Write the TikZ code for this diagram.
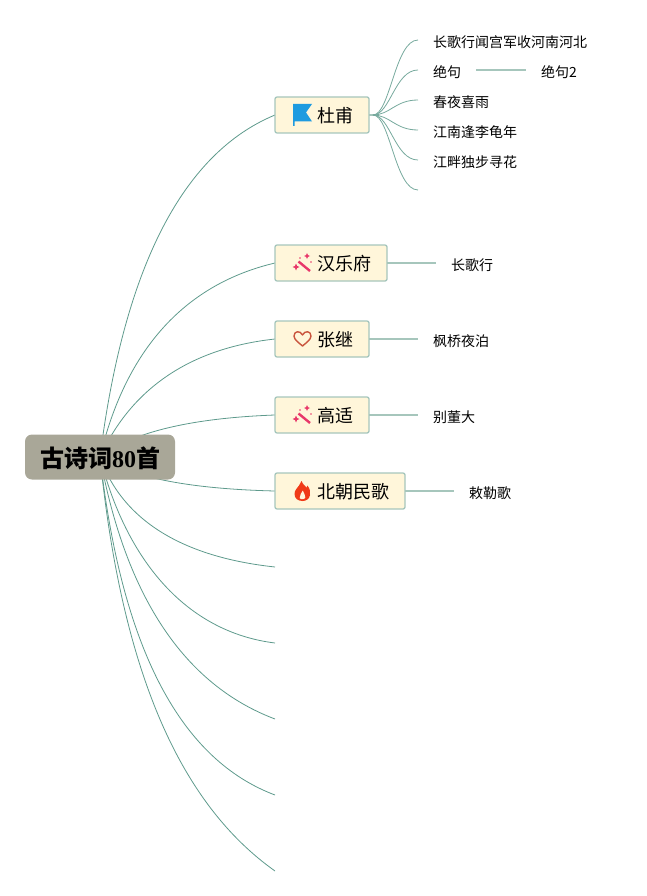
\documentclass[tikz,border=0pt]{standalone}
\usepackage{fontspec}
\setmainfont{Noto Sans CJK SC}
\newfontfamily\latinbold{Liberation Serif}
\usetikzlibrary{backgrounds}
\definecolor{limb}{HTML}{5E9A8C}
\definecolor{twig}{HTML}{A6C6BC}
\definecolor{rootfill}{HTML}{A9A798}
\definecolor{boxfill}{HTML}{FFF6DA}
\definecolor{flagblue}{HTML}{1E9BE0}
\definecolor{wandpink}{HTML}{E8386A}
\definecolor{heartred}{HTML}{C9553E}
\definecolor{flamered}{HTML}{F03A17}
\newcommand{\sparkle}[3]{\fill[wandpink] (#1,#2-#3) -- (#1+.3*#3,#2-.3*#3) -- (#1+#3,#2) -- (#1+.3*#3,#2+.3*#3) -- (#1,#2+#3) -- (#1-.3*#3,#2+.3*#3) -- (#1-#3,#2) -- (#1-.3*#3,#2-.3*#3) -- cycle;}
\newcommand{\boxtext}[1]{\hspace{27pt}\raisebox{-7.5pt}[0pt][0pt]{#1}}
\tikzset{
  rootbox/.style={fill=rootfill,rounded corners=7pt,minimum width=150,minimum height=45,inner sep=0pt,font=\fontsize{24}{24}\selectfont\bfseries},
  branchbox/.style={draw=twig,line width=1.3pt,fill=boxfill,rounded corners=2pt,minimum height=36,inner ysep=0pt,inner xsep=15.5,outer sep=0pt,anchor=west,font=\fontsize{18}{18}\selectfont},
  leaf/.style={anchor=west,inner sep=0pt,font=\fontsize{14}{14}\selectfont},
  limbline/.style={draw=limb,line width=0.8pt},
  twigline/.style={draw=twig,line width=1.3pt},
  subline/.style={draw=limb!85,line width=0.8pt},
  flagicon/.pic={\fill[flagblue] (-9.5,-11) -- (9.5,-11) -- (3.5,-2.5) -- (9.5,6.5) -- (-8,6.5) -- (-8,11) -- (-9.5,11) -- cycle;},
  wandicon/.pic={
    \draw[draw=wandpink,line width=2.4pt] (-4.5,-1.5) -- (7,8);
    \sparkle{4}{-7}{3}
    \sparkle{-7}{4}{3.5}
    \fill[wandpink] (8,-1) circle (0.8pt);
    \fill[wandpink] (-3,-5) circle (0.8pt);},
  hearticon/.pic={\draw[draw=heartred,line width=1.4pt,line join=round] (0,7) .. controls (-4,3.5) and (-8.5,0.5) .. (-8.5,-3) .. controls (-8.5,-8.5) and (-2,-8.5) .. (0,-4) .. controls (2,-8.5) and (8.5,-8.5) .. (8.5,-3) .. controls (8.5,0.5) and (4,3.5) .. (0,7) -- cycle;},
  flameicon/.pic={\fill[flamered] (-1,-10) .. controls (1,-6) and (2,-5.5) .. (3,-4.5) .. controls (3.5,-4) and (3.5,-3) .. (4,-3) .. controls (4.8,-3.5) and (4.8,-5) .. (4.8,-5.5) .. controls (7.5,-2.5) and (8,1) .. (7.5,4) .. controls (7,8) and (3.5,10) .. (0,10) .. controls (-4.5,10) and (-8,7.5) .. (-8,3) .. controls (-8,-1) and (-5,-3) .. (-3.5,-5.5) .. controls (-2.5,-7) and (-1.5,-8) .. (-1,-10) -- cycle;
    \fill[boxfill] (0.3,-0.5) .. controls (-0.5,2) and (-3.5,4) .. (-2.8,7) .. controls (-2.3,8.7) and (2.3,8.7) .. (2.8,6.5) .. controls (3.3,4) and (1,2.5) .. (0.3,-0.5) -- cycle;}
}
\begin{document}
\begin{tikzpicture}[x=1pt,y=-1pt]
    \useasboundingbox (0,0) rectangle (647,896);
    % root
    \node[rootbox] (root) at (100,457) {\raisebox{-10pt}[0pt][0pt]{古诗词{\latinbold 80}首}};
    % branches
    \node[branchbox] (dufu)    at (275,115) {\boxtext{杜甫}};
    \node[branchbox] (yuefu)   at (275,263) {\boxtext{汉乐府}};
    \node[branchbox] (zhangji) at (275,339) {\boxtext{张继}};
    \node[branchbox] (gaoshi)  at (275,415) {\boxtext{高适}};
    \node[branchbox] (beichao) at (275,491) {\boxtext{北朝民歌}};
    \coordinate (e1) at (275,567);
    \coordinate (e2) at (275,643);
    \coordinate (e3) at (275,719);
    \coordinate (e4) at (275,795);
    \coordinate (e5) at (275,871);
    % icons
    \pic at (302.5,115) {flagicon};
    \pic at (303,263) {wandicon};
    \pic at (302.5,339) {hearticon};
    \pic at (303,415) {wandicon};
    \pic at (302.5,491) {flameicon};
    % leaves
    \node[leaf] (changge) at (433,42)  {长歌行闻宫军收河南河北};
    \node[leaf] (jueju)   at (433,72)  {绝句};
    \node[leaf] (jueju2)  at (541,72)  {绝句2};
    \node[leaf] (chunye)  at (433,102) {春夜喜雨};
    \node[leaf] (jiangn)  at (433,132) {江南逢李龟年};
    \node[leaf] (jiangp)  at (433,162) {江畔独步寻花};
    \node[leaf] (changg2) at (451,265) {长歌行};
    \node[leaf] (fengq)   at (433,341) {枫桥夜泊};
    \node[leaf] (biedong) at (433,417) {别董大};
    \node[leaf] (chile)   at (469,493) {敕勒歌};
    \coordinate (d0) at (418,40);
    \coordinate (d1) at (418,70);
    \coordinate (d2) at (418,100);
    \coordinate (d3) at (418,130);
    \coordinate (d4) at (418,160);
    \coordinate (d5) at (418,190);
    \coordinate (dhub) at (373,115);
    % limbs from the root
    \begin{scope}[on background layer]
    \draw[limbline] (root.center) .. controls (124,267) and (183,153) .. (dufu.west);
    \draw[limbline] (root.center) .. controls (126,348) and (186,284) .. (yuefu.west);
    \draw[limbline] (root.center) .. controls (132,387) and (192,348) .. (zhangji.west);
    \draw[limbline] (root.center) .. controls (132,432) and (192,418) .. (gaoshi.west);
    \draw[limbline] (root.center) .. controls (132,478) and (192,489) .. (beichao.west);
    \draw[limbline] (root.center) .. controls (122,520) and (182,557) .. (e1);
    \draw[limbline] (root.center) .. controls (126,560) and (186,632) .. (e2);
    \draw[limbline] (root.center) .. controls (126,598) and (185,685) .. (e3);
    \draw[limbline] (root.center) .. controls (122,652) and (182,760) .. (e4);
    \draw[limbline] (root.center) .. controls (122,676) and (182,805) .. (e5);
    \end{scope}
    % twigs
    \draw[twigline] (dufu.east) -- (dhub);
    \foreach \t/\y in {d0/40,d1/70,d2/100,d3/130,d4/160,d5/190}
      \draw[subline] (dhub) .. controls (390,115) and (395,\y) .. (\t);
    \draw[twigline] ([xshift=15]jueju.east |- d1) -- ([xshift=-15]jueju2.west |- d1);
    \draw[twigline] (yuefu.east) -- ([xshift=-15]changg2.west |- yuefu.east);
    \draw[twigline] (zhangji.east) -- ([xshift=-15]fengq.west |- zhangji.east);
    \draw[twigline] (gaoshi.east) -- ([xshift=-15]biedong.west |- gaoshi.east);
    \draw[twigline] (beichao.east) -- ([xshift=-15]chile.west |- beichao.east);
\end{tikzpicture}
\end{document}
